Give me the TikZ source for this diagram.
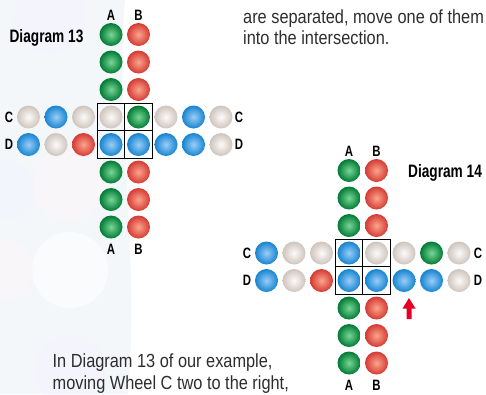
\documentclass[tikz,border=0pt]{standalone}
\usepackage{fontspec}
\setmainfont{Liberation Sans}
\newfontfamily\cond{Liberation Sans}[FakeStretch=0.86]
\newfontfamily\condb{Liberation Sans}[FakeStretch=0.76]
\definecolor{gr}{RGB}{0,122,52}
\definecolor{grhi}{RGB}{120,215,150}
\definecolor{rd}{RGB}{212,58,52}
\definecolor{rdhi}{RGB}{252,165,140}
\definecolor{bl}{RGB}{22,132,208}
\definecolor{blhi}{RGB}{155,205,248}
\definecolor{wh}{RGB}{206,196,189}
\definecolor{whhi}{RGB}{253,251,249}
\definecolor{txt}{RGB}{45,45,45}
\definecolor{arr}{RGB}{228,0,36}
\definecolor{bgtint}{RGB}{244,247,250}
\tikzset{
  ball/.style={circle, inner sep=0pt, minimum size=23pt, shading=radial, inner color=#1hi, outer color=#1},
  cell/.style={draw=black, line width=1.1pt, minimum size=27.5pt, inner sep=0pt},
  lbl/.style={font=\condb\bfseries\fontsize{15}{15}\selectfont, text=black, inner sep=0pt},
  title/.style={font=\condb\bfseries\fontsize{18}{18}\selectfont, text=black, inner sep=0pt},
  body/.style={font=\cond\fontsize{19}{22}\selectfont, text=txt, inner sep=0pt, anchor=base west},
}
\begin{document}
\begin{tikzpicture}[x=1pt,y=-1pt]
\useasboundingbox (0,0) rectangle (486,394);
% faint background watermark
\fill[bgtint] (0,0) -- (125,0) .. controls (115,120) and (140,250) .. (128,394) -- (0,394) -- cycle;
\fill[red!4, opacity=0.4] (68,185) circle (36);
\fill[white, opacity=0.6] (70,270) circle (38);
\fill[blue!4, opacity=0.5] (70,370) circle (36);
\fill[blue!4, opacity=0.5] (50,18) circle (36);
\fill[red!4, opacity=0.4] (4,270) circle (30);
\fill[blue!5, opacity=0.4] (4,190) circle (30);

% ---------------- Diagram 13 ----------------
\node[cell] (k13ac) at (111,117) {};
\node[cell] (k13bc) at (138.5,117) {};
\node[cell] (k13ad) at (111,144.5) {};
\node[cell] (k13bd) at (138.5,144.5) {};
\foreach \y/\i in {34.5/1,62/2,89.5/3,172/6,199.5/7,227/8}{
  \node[ball=gr] (p13a\i) at (111,\y) {};
  \node[ball=rd] (p13b\i) at (138.5,\y) {};
}
\foreach \x/\c/\i in {28.5/wh/1,56/bl/2,83.5/wh/3,111/wh/4,138.5/gr/5,166/wh/6,193.5/bl/7,221/wh/8}{
  \node[ball=\c] (p13c\i) at (\x,117) {};
}
\foreach \x/\c/\i in {28.5/bl/1,56/wh/2,83.5/rd/3,111/bl/4,138.5/bl/5,166/bl/6,193.5/bl/7,221/wh/8}{
  \node[ball=\c] (p13d\i) at (\x,144.5) {};
}
\node[lbl] (l13at) at (111,15) {A};
\node[lbl] (l13bt) at (138.5,15) {B};
\node[lbl] (l13ab) at (111,249) {A};
\node[lbl] (l13bb) at (138.5,249) {B};
\node[lbl] (l13cl) at (9,117) {C};
\node[lbl] (l13cr) at (239,117) {C};
\node[lbl] (l13dl) at (9,144.5) {D};
\node[lbl] (l13dr) at (239,144.5) {D};
\node[title] (t13) at (46.5,38) {Diagram 13};

% ---------------- Diagram 14 ----------------
\node[cell] (k14ac) at (349,253) {};
\node[cell] (k14bc) at (376.5,253) {};
\node[cell] (k14ad) at (349,280.5) {};
\node[cell] (k14bd) at (376.5,280.5) {};
\foreach \y/\i in {170.5/1,198/2,225.5/3,308/6,335.5/7,363/8}{
  \node[ball=gr] (p14a\i) at (349,\y) {};
  \node[ball=rd] (p14b\i) at (376.5,\y) {};
}
\foreach \x/\c/\i in {266.5/bl/1,294/wh/2,321.5/wh/3,349/bl/4,376.5/wh/5,404/wh/6,431.5/gr/7,459/wh/8}{
  \node[ball=\c] (p14c\i) at (\x,253) {};
}
\foreach \x/\c/\i in {266.5/bl/1,294/wh/2,321.5/rd/3,349/bl/4,376.5/bl/5,404/bl/6,431.5/bl/7,459/wh/8}{
  \node[ball=\c] (p14d\i) at (\x,280.5) {};
}
\node[lbl] (l14at) at (349,151) {A};
\node[lbl] (l14bt) at (376.5,151) {B};
\node[lbl] (l14ab) at (349,385) {A};
\node[lbl] (l14bb) at (376.5,385) {B};
\node[lbl] (l14cl) at (247,253) {C};
\node[lbl] (l14cr) at (478,253) {C};
\node[lbl] (l14dl) at (247,280.5) {D};
\node[lbl] (l14dr) at (478,280.5) {D};
\node[title] (t14) at (445,172.5) {Diagram 14};

% red arrow
\fill[arr] (409,298) -- (415.5,308.5) -- (411.5,308.5) -- (411.5,319) -- (406.5,319) -- (406.5,308.5) -- (402.5,308.5) -- cycle;

% ---------------- text ----------------
\node[body] (s1) at (243,23) {are separated, move one of them};
\node[body] (s2) at (243,44.5) {into the intersection.};
\node[body] (s3) at (52.5,367) {In Diagram 13 of our example,};
\node[body] (s4) at (52.5,389) {moving Wheel C two to the right,};
\end{tikzpicture}
\end{document}
